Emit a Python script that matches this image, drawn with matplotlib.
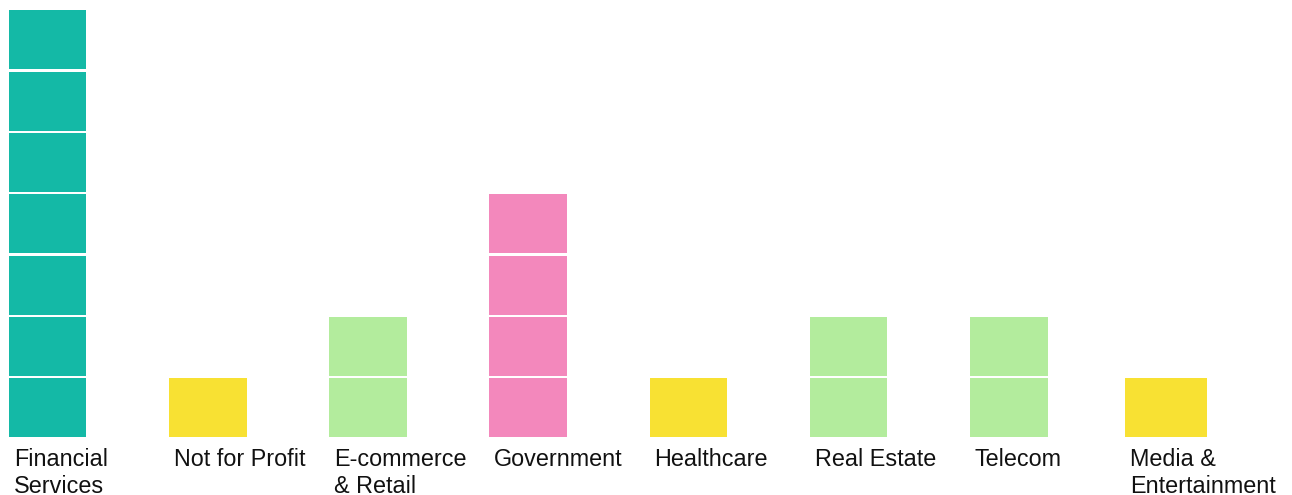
import matplotlib
matplotlib.use("Agg")
import matplotlib.pyplot as plt
import numpy as np

# Data
categories = ["Financial\nServices", "Not for Profit", "E-commerce\n& Retail", "Government",
              "Healthcare", "Real Estate", "Telecom", "Media &\nEntertainment"]
counts = [7, 1, 2, 4, 1, 2, 2, 1]
colors = ["#14b9a6", "#f8e133", "#b3ec9d", "#f388bc", "#f8e133", "#b3ec9d", "#b3ec9d", "#f8e133"]

W, H = 1292, 495
fig = plt.figure(figsize=(W / 100, H / 100), dpi=100)
plt.rcParams['font.family'] = ['Liberation Sans', 'DejaVu Sans']

pitch_px = 160.2
left_px = 8.7
bottom_px = 437.3
top_px = 10.3
gap = 0.038
ymax = max(counts) - gap

ax = fig.add_axes([left_px / W, (H - bottom_px) / H, (W - left_px) / W, (bottom_px - top_px) / H])
ax.set_xlim(0, (W - left_px) / pitch_px)
ax.set_ylim(0, ymax)
ax.axis("off")

bar_w = 77.7 / pitch_px
lefts = np.arange(len(categories), dtype=float)
widths = np.full(len(categories), bar_w)
# last bar is drawn slightly shifted and wider in the reference
lefts[-1] -= 4.7 / pitch_px
widths[-1] = 82.0 / pitch_px

for i, (n, c) in enumerate(zip(counts, colors)):
    for k in range(n):
        ax.bar(lefts[i], 1 - gap, bottom=k, width=widths[i], align="edge",
               color=c, edgecolor="none", linewidth=0)
    ax.annotate(categories[i], xy=(lefts[i], 0), xycoords="data",
                xytext=(5, -10.5), textcoords="offset pixels",
                ha="left", va="top", fontsize=16.8, color="#111111",
                linespacing=1.22, annotation_clip=False)

fig.savefig("out.png", dpi=100, facecolor="white")
